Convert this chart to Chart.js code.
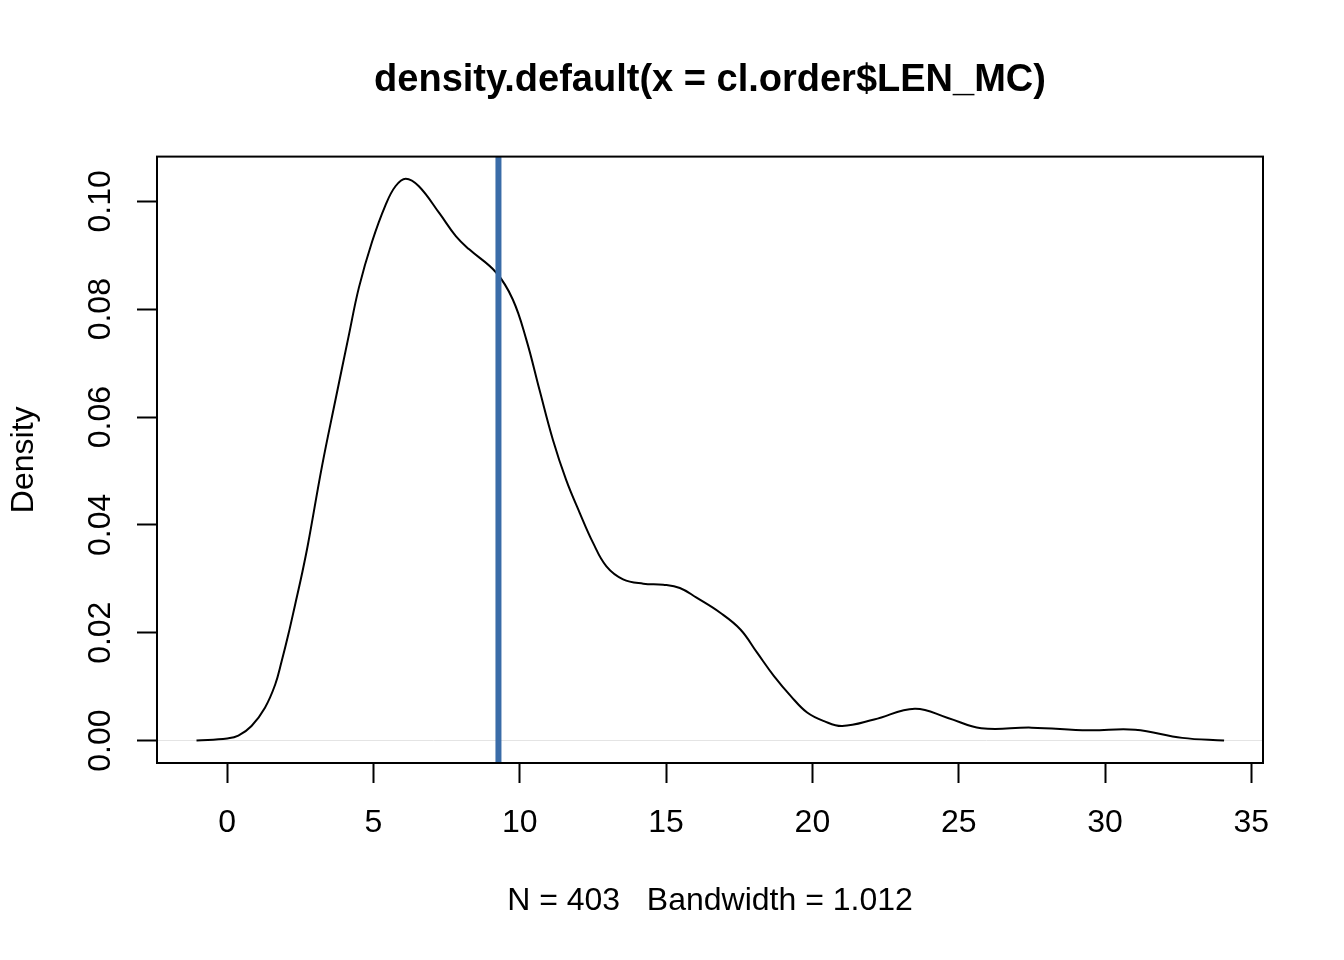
<!DOCTYPE html>
<html>
<head>
<meta charset="utf-8">
<script src="https://cdn.jsdelivr.net/npm/chart.js@4"></script>
<style>
  html, body { margin: 0; padding: 0; background: #fff; }
  #wrap { width: 1344px; height: 960px; position: relative; }
</style>
</head>
<body>
<div id="wrap"><canvas id="chart"></canvas></div>
<script>
// density estimate of cl.order$LEN_MC
const densityX = [-1.05, 0.0, 0.38, 0.83, 1.29, 1.64, 1.86, 2.09, 2.32, 2.55, 2.76, 3.24, 3.70, 4.15,
    4.50, 4.95, 5.41, 5.75, 6.10, 6.55, 7.25, 7.82, 8.27, 9.19, 9.76, 10.22, 10.67, 11.13, 11.58,
    12.05, 12.5, 12.96, 13.53, 14.22, 14.9, 15.47, 16.04, 16.85, 17.54, 18.11, 18.68, 19.27, 19.82,
    20.4, 21.02, 22.11, 23.5, 24.63, 25.77, 27.49, 29.43, 31.03, 32.64, 34.07];
const densityY = [0.0000, 0.0004, 0.0009, 0.0027, 0.0061, 0.0104, 0.0147, 0.0197, 0.0252, 0.0308,
    0.0364, 0.0509, 0.0632, 0.0750, 0.0840, 0.0925, 0.0993, 0.1028, 0.1042, 0.1028, 0.0978, 0.0935,
    0.0911, 0.0868, 0.0818, 0.0744, 0.0651, 0.0558, 0.0484, 0.0422, 0.0367, 0.0323, 0.0299, 0.0291,
    0.0289, 0.0283, 0.0265, 0.0237, 0.0206, 0.0163, 0.0120, 0.0082, 0.0052, 0.0036, 0.0027, 0.0039,
    0.0059, 0.0042, 0.0023, 0.0024, 0.0019, 0.0020, 0.0005, 0.0000];
const meanLen = 9.27;
const xTicks = [0, 5, 10, 15, 20, 25, 30, 35];
const yTicks = [0, 0.02, 0.04, 0.06, 0.08, 0.10];
const xLimits = [-2.4, 35.4];
const yLimits = [-0.00416, 0.1083];
const titleText = 'density.default(x = cl.order$LEN_MC)';
const subText = 'N = 403   Bandwidth = 1.012';

const FONT = 'Liberation Sans, Arial, Helvetica, sans-serif';

// R style box round the plot region
const boxPlugin = {
    id: 'box',
    afterDraw(chart) {
        const a = chart.chartArea;
        const ctx = chart.ctx;
        ctx.save();
        ctx.strokeStyle = '#000';
        ctx.lineWidth = 2;
        ctx.strokeRect(a.left, a.top, a.right - a.left, a.bottom - a.top);
        ctx.restore();
    }
};

const curve = densityX.map((x, i) => ({ x: x, y: densityY[i] }));

new Chart(document.getElementById('chart'), {
    type: 'scatter',
    data: {
        datasets: [
            {
                data: [{ x: meanLen, y: yLimits[0] }, { x: meanLen, y: yLimits[1] }],
                showLine: true,
                borderColor: '#3a6ca8',
                borderWidth: 6,
                pointRadius: 0
            },
            {
                data: curve,
                showLine: true,
                borderColor: '#000',
                borderWidth: 2,
                pointRadius: 0,
                tension: 0.4
            }
        ]
    },
    options: {
        responsive: true,
        maintainAspectRatio: false,
        animation: false,
        layout: { padding: { left: 0, right: 81, top: 0, bottom: 0 } },
        plugins: {
            legend: { display: false },
            tooltip: { enabled: false },
            title: {
                display: true,
                text: titleText,
                fullSize: false,
                color: '#000',
                font: { family: FONT, size: 38, weight: 'bold', lineHeight: 1.2 },
                padding: { top: 58, bottom: 53 }
            }
        },
        scales: {
            x: {
                type: 'linear',
                min: xLimits[0],
                max: xLimits[1],
                afterBuildTicks: (s) => { s.ticks = xTicks.map(v => ({ value: v })); },
                afterFit: (s) => { s.height = 197; },
                border: { display: false },
                grid: {
                    drawOnChartArea: false,
                    drawTicks: true,
                    tickLength: 20,
                    tickColor: '#000',
                    tickWidth: 2
                },
                ticks: {
                    color: '#000',
                    padding: 21,
                    maxRotation: 0,
                    font: { family: FONT, size: 32 },
                    callback: (v) => String(v)
                },
                title: {
                    display: true,
                    text: subText,
                    color: '#000',
                    font: { family: FONT, size: 32, lineHeight: 1.2 },
                    padding: { top: 0, bottom: 40 }
                }
            },
            y: {
                type: 'linear',
                min: yLimits[0],
                max: yLimits[1],
                afterBuildTicks: (s) => { s.ticks = yTicks.map(v => ({ value: v })); },
                afterFit: (s) => { s.width = 157; },
                border: { display: false },
                grid: {
                    drawOnChartArea: true,
                    color: (c) => (c.tick && c.tick.value === 0 ? '#e4e4e4' : 'rgba(0,0,0,0)'),
                    lineWidth: 1,
                    drawTicks: true,
                    tickLength: 20,
                    tickColor: '#000',
                    tickWidth: 2
                },
                ticks: {
                    color: '#000',
                    padding: 5,
                    minRotation: 90,
                    maxRotation: 90,
                    crossAlign: 'center',
                    font: { family: FONT, size: 32 },
                    callback: (v) => v.toFixed(2)
                },
                title: {
                    display: true,
                    text: 'Density',
                    color: '#000',
                    font: { family: FONT, size: 32, lineHeight: 1.2 },
                    padding: { top: 5, bottom: 0 }
                }
            }
        }
    },
    plugins: [boxPlugin]
});
</script>
</body>
</html>
